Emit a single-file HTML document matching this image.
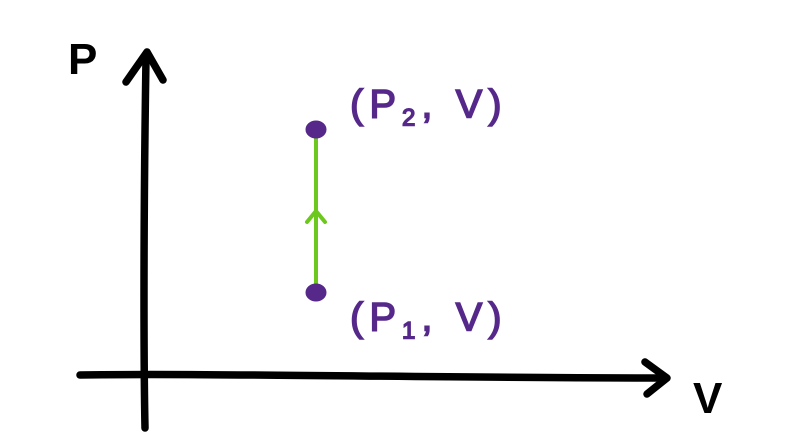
<!DOCTYPE html>
<html>
<head>
<meta charset="utf-8">
<style>
  html,body{margin:0;padding:0;background:#fff;}
  svg{display:block;}
  text{font-family:"Liberation Sans","DejaVu Sans",sans-serif;}
</style>
</head>
<body>
<svg id="chart" width="801" height="440" viewBox="0 0 801 440">
  <g>
    <path d="M145,428 C144,380 143,250 146,58" stroke="#000" stroke-width="7.5" fill="none" stroke-linecap="round"/>
    <path d="M126,82 L147,52 L163,80" stroke="#000" stroke-width="7.5" fill="none" stroke-linecap="round" stroke-linejoin="round"/>
  </g>
  <g>
    <path d="M80,375 C200,373 450,378 665,378" stroke="#000" stroke-width="7.5" fill="none" stroke-linecap="round"/>
    <path d="M645,362 L667,378 L647,394" stroke="#000" stroke-width="7.5" fill="none" stroke-linecap="round" stroke-linejoin="round"/>
  </g>
  <text x="68" y="74" font-size="44" font-weight="bold" fill="#000">P</text>
  <text x="693" y="413" font-size="44" font-weight="bold" fill="#000">V</text>
  <g id="marks"></g>
</svg>
<script>
const volumes = [1, 1];
const pressures = [1, 3];
const pointLabels = ["P", "P"];
const pointSubs = ["1", "2"];

const xScale = v => 145 + (v - 0) * 171;
const yScale = p => 374 - p * 81.5;

const g = document.getElementById('marks');
const NS = 'http://www.w3.org/2000/svg';

const x0 = xScale(volumes[0]), y0 = yScale(pressures[0]);
const x1 = xScale(volumes[1]), y1 = yScale(pressures[1]);

const line = document.createElementNS(NS, 'line');


line.setAttribute('x1', x0); line.setAttribute('y1', y0);
line.setAttribute('x2', x1); line.setAttribute('y2', y1);
line.setAttribute('stroke', '#6cc81c'); line.setAttribute('stroke-width', '4');
g.appendChild(line);

const mx = (x0 + x1) / 2, my = (y0 + y1) / 2;
const dir = Math.sign(y1 - y0) || -1;
const head = document.createElementNS(NS, 'path');


head.setAttribute('d', `M${mx-9},${my - dir*11} L${mx},${my} L${mx+9},${my - dir*11}`);
head.setAttribute('stroke', '#6cc81c'); head.setAttribute('stroke-width', '4');
head.setAttribute('fill', 'none'); head.setAttribute('stroke-linecap', 'round');
g.appendChild(head);

for (let i = 0; i < volumes.length; i++) {
  const cx = xScale(volumes[i]), cy = yScale(pressures[i]);
  const c = document.createElementNS(NS, 'ellipse');
  
  
  c.setAttribute('cx', cx); c.setAttribute('cy', cy);
  c.setAttribute('rx', 10.5); c.setAttribute('ry', 9);
  c.setAttribute('fill', '#55288a');
  g.appendChild(c);
  const t = document.createElementNS(NS, 'text');
  
  
  t.setAttribute('x', cx + 34);
  t.setAttribute('y', cy + (pressures[i] >= pressures[(i+1)%2] ? -12 : 38));
  t.setAttribute('font-size', '40');
  t.setAttribute('letter-spacing', '6');
  t.setAttribute('fill', '#55288a');
  t.setAttribute('stroke', '#55288a');
  t.setAttribute('stroke-width', '1.5');
  t.appendChild(document.createTextNode('(' + pointLabels[i]));
  const sub = document.createElementNS(NS, 'tspan');
  sub.setAttribute('font-size', '24');
  sub.setAttribute('dy', '8');
  sub.textContent = pointSubs[i];
  t.appendChild(sub);
  const rest = document.createElementNS(NS, 'tspan');
  rest.setAttribute('dy', '-8');
  rest.textContent = ', V)';
  t.appendChild(rest);
  g.appendChild(t);
}
</script>
</body>
</html>
